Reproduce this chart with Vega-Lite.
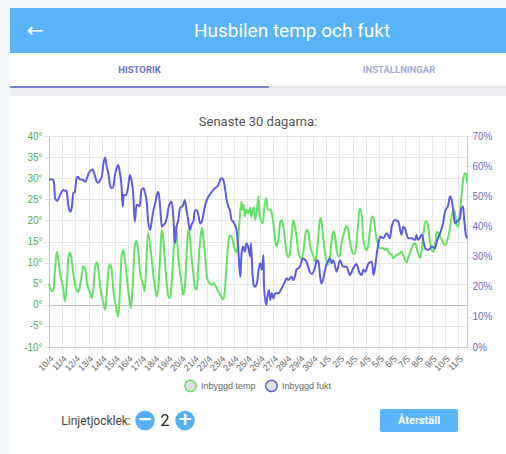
{
"$schema": "https://vega.github.io/schema/vega-lite/v6.json",
"padding": 0,
"autosize": {"type": "pad"},
"background": "#ffffff",
"spacing": 0,
"config": {"font": "Roboto", "view": {"stroke": null}, "concat": {"spacing": 0}, "legend": {"layout": {"bottom": {"anchor": "middle"}}}},
"datasets": {
"temp": [
{"t":"2023-04-10T00:00","v":5.0},{"t":"2023-04-10T05:00","v":3.2},{"t":"2023-04-10T08:00","v":3.5},{"t":"2023-04-10T11:00","v":8.3},{"t":"2023-04-10T14:00","v":12.6},{"t":"2023-04-10T17:00","v":10.7},{"t":"2023-04-10T20:00","v":7.5},
{"t":"2023-04-11T02:00","v":3.6},{"t":"2023-04-11T05:00","v":0.8},{"t":"2023-04-11T08:00","v":4.3},{"t":"2023-04-11T11:00","v":10.7},{"t":"2023-04-11T14:00","v":12.4},{"t":"2023-04-11T17:00","v":10.7},{"t":"2023-04-11T20:00","v":7.5},
{"t":"2023-04-12T02:00","v":3.6},{"t":"2023-04-12T05:00","v":3.0},{"t":"2023-04-12T08:00","v":4.3},{"t":"2023-04-12T12:00","v":7.5},{"t":"2023-04-12T14:00","v":9.1},{"t":"2023-04-12T18:00","v":8.3},{"t":"2023-04-12T21:00","v":5.1},
{"t":"2023-04-13T03:00","v":2.8},{"t":"2023-04-13T06:00","v":1.6},{"t":"2023-04-13T09:00","v":4.3},{"t":"2023-04-13T12:00","v":9.1},{"t":"2023-04-13T15:00","v":10.0},{"t":"2023-04-13T18:00","v":8.3},{"t":"2023-04-13T21:00","v":4.3},
{"t":"2023-04-14T03:00","v":0.4},{"t":"2023-04-14T06:00","v":-1.2},{"t":"2023-04-14T09:00","v":2.8},{"t":"2023-04-14T12:00","v":8.3},{"t":"2023-04-14T15:00","v":9.6},{"t":"2023-04-14T18:00","v":8.3},{"t":"2023-04-14T21:00","v":3.6},
{"t":"2023-04-15T03:00","v":-1.2},{"t":"2023-04-15T06:00","v":-2.8},{"t":"2023-04-15T09:00","v":3.6},{"t":"2023-04-15T12:00","v":11.4},{"t":"2023-04-15T15:00","v":12.9},{"t":"2023-04-15T18:00","v":10.7},
{"t":"2023-04-16T00:00","v":3.6},{"t":"2023-04-16T05:00","v":-0.8},{"t":"2023-04-16T08:00","v":4.3},{"t":"2023-04-16T12:00","v":13.8},{"t":"2023-04-16T15:00","v":15.2},{"t":"2023-04-16T18:00","v":13.0},{"t":"2023-04-16T21:00","v":8.3},
{"t":"2023-04-17T04:00","v":4.3},{"t":"2023-04-17T06:00","v":3.2},{"t":"2023-04-17T12:00","v":17.0},{"t":"2023-04-17T19:00","v":10.4},{"t":"2023-04-17T22:00","v":6.7},
{"t":"2023-04-18T01:00","v":3.6},{"t":"2023-04-18T04:00","v":2.0},{"t":"2023-04-18T07:00","v":4.3},{"t":"2023-04-18T10:00","v":11.4},{"t":"2023-04-18T13:00","v":17.8},{"t":"2023-04-18T16:00","v":15.4},{"t":"2023-04-18T19:00","v":9.9},{"t":"2023-04-18T22:00","v":5.1},
{"t":"2023-04-19T01:00","v":2.0},{"t":"2023-04-19T04:00","v":1.6},{"t":"2023-04-19T07:00","v":5.1},{"t":"2023-04-19T10:00","v":11.4},{"t":"2023-04-19T13:00","v":18.6},{"t":"2023-04-19T16:00","v":17.0},{"t":"2023-04-19T19:00","v":11.4},
{"t":"2023-04-20T01:00","v":5.1},{"t":"2023-04-20T04:00","v":2.4},{"t":"2023-04-20T07:00","v":4.3},{"t":"2023-04-20T10:00","v":11.4},{"t":"2023-04-20T13:00","v":17.8},{"t":"2023-04-20T16:00","v":16.2},{"t":"2023-04-20T19:00","v":11.4},{"t":"2023-04-20T23:00","v":6.7},
{"t":"2023-04-21T01:00","v":4.3},{"t":"2023-04-21T05:00","v":3.6},{"t":"2023-04-21T07:00","v":8.3},{"t":"2023-04-21T11:00","v":15.4},{"t":"2023-04-21T14:00","v":18.2},{"t":"2023-04-21T17:00","v":15.4},{"t":"2023-04-21T20:00","v":11.4},{"t":"2023-04-21T23:00","v":6.7},
{"t":"2023-04-22T02:00","v":5.5},{"t":"2023-04-22T08:00","v":4.7},{"t":"2023-04-22T11:00","v":5.1},{"t":"2023-04-22T17:00","v":3.9},{"t":"2023-04-22T23:00","v":2.4},
{"t":"2023-04-23T05:00","v":1.3},{"t":"2023-04-23T08:00","v":3.6},{"t":"2023-04-23T11:00","v":9.9},{"t":"2023-04-23T14:00","v":14.6},{"t":"2023-04-23T17:00","v":16.4},{"t":"2023-04-23T20:00","v":16.2},
{"t":"2023-04-24T02:00","v":13.0},{"t":"2023-04-24T05:00","v":12.4},{"t":"2023-04-24T08:00","v":15.4},{"t":"2023-04-24T11:00","v":20.9},{"t":"2023-04-24T14:00","v":24.5},{"t":"2023-04-24T16:00","v":22.5},{"t":"2023-04-24T18:00","v":23.7},{"t":"2023-04-24T20:00","v":20.9},{"t":"2023-04-24T23:00","v":22.5},
{"t":"2023-04-25T02:00","v":21.7},{"t":"2023-04-25T06:00","v":23.0},{"t":"2023-04-25T08:00","v":20.9},{"t":"2023-04-25T12:00","v":23.1},{"t":"2023-04-25T15:00","v":20.1},{"t":"2023-04-25T18:00","v":22.5},{"t":"2023-04-25T21:00","v":25.7},{"t":"2023-04-25T22:00","v":22.5},
{"t":"2023-04-26T01:00","v":20.1},{"t":"2023-04-26T05:00","v":19.3},{"t":"2023-04-26T07:00","v":22.5},{"t":"2023-04-26T11:00","v":25.3},{"t":"2023-04-26T14:00","v":22.5},{"t":"2023-04-26T18:00","v":22.5},{"t":"2023-04-26T21:00","v":21.7},
{"t":"2023-04-27T00:00","v":19.3},{"t":"2023-04-27T03:00","v":15.4},{"t":"2023-04-27T06:00","v":13.8},{"t":"2023-04-27T09:00","v":15.4},{"t":"2023-04-27T12:00","v":19.3},{"t":"2023-04-27T15:00","v":20.1},{"t":"2023-04-27T18:00","v":18.6},{"t":"2023-04-27T21:00","v":15.4},
{"t":"2023-04-28T00:00","v":12.2},{"t":"2023-04-28T03:00","v":11.3},{"t":"2023-04-28T06:00","v":12.2},{"t":"2023-04-28T09:00","v":16.2},{"t":"2023-04-28T12:00","v":20.1},{"t":"2023-04-28T15:00","v":18.6},{"t":"2023-04-28T18:00","v":16.2},{"t":"2023-04-28T21:00","v":13.0},
{"t":"2023-04-29T03:00","v":10.8},{"t":"2023-04-29T06:00","v":12.2},{"t":"2023-04-29T09:00","v":15.4},{"t":"2023-04-29T12:00","v":17.8},{"t":"2023-04-29T16:00","v":17.0},{"t":"2023-04-29T18:00","v":14.6},
{"t":"2023-04-30T01:00","v":11.4},{"t":"2023-04-30T04:00","v":10.3},{"t":"2023-04-30T07:00","v":12.2},{"t":"2023-04-30T10:00","v":17.0},{"t":"2023-04-30T13:00","v":20.5},{"t":"2023-04-30T16:00","v":19.3},{"t":"2023-04-30T19:00","v":15.4},{"t":"2023-04-30T22:00","v":12.2},
{"t":"2023-05-01T04:00","v":9.5},{"t":"2023-05-01T07:00","v":11.4},{"t":"2023-05-01T10:00","v":15.4},{"t":"2023-05-01T13:00","v":17.4},{"t":"2023-05-01T16:00","v":16.2},{"t":"2023-05-01T19:00","v":13.0},{"t":"2023-05-01T22:00","v":11.4},
{"t":"2023-05-02T01:00","v":11.8},{"t":"2023-05-02T04:00","v":14.6},{"t":"2023-05-02T10:00","v":17.8},{"t":"2023-05-02T13:00","v":18.7},{"t":"2023-05-02T16:00","v":17.8},{"t":"2023-05-02T19:00","v":15.0},
{"t":"2023-05-03T01:00","v":12.2},{"t":"2023-05-03T04:00","v":12.1},{"t":"2023-05-03T07:00","v":14.6},{"t":"2023-05-03T10:00","v":19.3},{"t":"2023-05-03T13:00","v":22.9},{"t":"2023-05-03T17:00","v":20.9},{"t":"2023-05-03T19:00","v":16.2},{"t":"2023-05-03T23:00","v":13.4},
{"t":"2023-05-04T02:00","v":13.0},{"t":"2023-05-04T05:00","v":14.6},{"t":"2023-05-04T08:00","v":18.6},{"t":"2023-05-04T11:00","v":20.9},{"t":"2023-05-04T14:00","v":20.5},{"t":"2023-05-04T17:00","v":17.8},{"t":"2023-05-04T20:00","v":15.4},
{"t":"2023-05-05T02:00","v":13.4},{"t":"2023-05-05T08:00","v":13.4},{"t":"2023-05-05T11:00","v":13.0},{"t":"2023-05-05T14:00","v":13.4},{"t":"2023-05-05T17:00","v":12.6},{"t":"2023-05-05T23:00","v":11.8},
{"t":"2023-05-06T02:00","v":11.1},{"t":"2023-05-06T08:00","v":11.8},{"t":"2023-05-06T14:00","v":12.2},{"t":"2023-05-06T17:00","v":12.6},{"t":"2023-05-06T20:00","v":11.8},{"t":"2023-05-06T23:00","v":10.7},
{"t":"2023-05-07T02:00","v":10.0},{"t":"2023-05-07T05:00","v":11.1},{"t":"2023-05-07T08:00","v":12.2},{"t":"2023-05-07T14:00","v":14.2},{"t":"2023-05-07T18:00","v":14.6},{"t":"2023-05-07T20:00","v":13.8},{"t":"2023-05-07T23:00","v":12.2},
{"t":"2023-05-08T03:00","v":11.1},{"t":"2023-05-08T06:00","v":13.4},{"t":"2023-05-08T09:00","v":17.0},{"t":"2023-05-08T12:00","v":19.7},{"t":"2023-05-08T15:00","v":19.7},{"t":"2023-05-08T18:00","v":17.8},{"t":"2023-05-08T21:00","v":14.6},
{"t":"2023-05-09T00:00","v":13.0},{"t":"2023-05-09T03:00","v":12.6},{"t":"2023-05-09T06:00","v":14.2},{"t":"2023-05-09T09:00","v":17.3},{"t":"2023-05-09T12:00","v":17.0},{"t":"2023-05-09T18:00","v":15.4},
{"t":"2023-05-10T00:00","v":14.2},{"t":"2023-05-10T06:00","v":16.2},{"t":"2023-05-10T09:00","v":18.2},{"t":"2023-05-10T12:00","v":20.9},{"t":"2023-05-10T15:00","v":22.5},{"t":"2023-05-10T18:00","v":21.7},{"t":"2023-05-10T21:00","v":19.0},
{"t":"2023-05-11T00:00","v":18.6},{"t":"2023-05-11T03:00","v":21.7},{"t":"2023-05-11T06:00","v":25.7},{"t":"2023-05-11T09:00","v":29.6},{"t":"2023-05-11T12:00","v":31.2},{"t":"2023-05-11T15:00","v":30.8},{"t":"2023-05-11T16:00","v":28.8}
],
"fukt": [
{"t":"2023-04-10T00:00","v":55.6},{"t":"2023-04-10T07:00","v":55.6},{"t":"2023-04-10T09:00","v":54.8},{"t":"2023-04-10T11:00","v":49.3},{"t":"2023-04-10T15:00","v":48.5},{"t":"2023-04-10T20:00","v":50.4},{"t":"2023-04-10T23:00","v":51.5},
{"t":"2023-04-11T02:00","v":52.1},{"t":"2023-04-11T05:00","v":51.8},{"t":"2023-04-11T08:00","v":51.9},{"t":"2023-04-11T11:00","v":47.1},{"t":"2023-04-11T15:00","v":44.9},{"t":"2023-04-11T18:00","v":47.1},{"t":"2023-04-11T20:00","v":51.0},{"t":"2023-04-11T23:00","v":51.5},
{"t":"2023-04-12T02:00","v":56.0},{"t":"2023-04-12T05:00","v":56.5},{"t":"2023-04-12T08:00","v":55.6},{"t":"2023-04-12T14:00","v":55.4},{"t":"2023-04-12T18:00","v":54.8},{"t":"2023-04-12T21:00","v":56.0},
{"t":"2023-04-13T00:00","v":57.6},{"t":"2023-04-13T03:00","v":58.4},{"t":"2023-04-13T07:00","v":58.9},{"t":"2023-04-13T12:00","v":56.5},{"t":"2023-04-13T15:00","v":54.8},{"t":"2023-04-13T18:00","v":54.5},{"t":"2023-04-13T21:00","v":55.4},
{"t":"2023-04-14T00:00","v":56.5},{"t":"2023-04-14T03:00","v":60.9},{"t":"2023-04-14T06:00","v":62.9},{"t":"2023-04-14T09:00","v":59.8},{"t":"2023-04-14T12:00","v":57.6},{"t":"2023-04-14T15:00","v":53.7},{"t":"2023-04-14T18:00","v":52.7},{"t":"2023-04-14T21:00","v":53.2},
{"t":"2023-04-15T00:00","v":57.1},{"t":"2023-04-15T03:00","v":59.3},{"t":"2023-04-15T06:00","v":60.4},{"t":"2023-04-15T09:00","v":57.6},{"t":"2023-04-15T12:00","v":53.2},{"t":"2023-04-15T14:00","v":46.6},{"t":"2023-04-15T16:00","v":50.4},{"t":"2023-04-15T20:00","v":50.4},
{"t":"2023-04-16T00:00","v":53.2},{"t":"2023-04-16T03:00","v":57.1},{"t":"2023-04-16T06:00","v":55.4},{"t":"2023-04-16T09:00","v":51.0},{"t":"2023-04-16T12:00","v":41.6},{"t":"2023-04-16T15:00","v":47.1},{"t":"2023-04-16T18:00","v":47.1},{"t":"2023-04-16T21:00","v":46.6},
{"t":"2023-04-17T00:00","v":52.1},{"t":"2023-04-17T04:00","v":52.7},{"t":"2023-04-17T06:00","v":51.5},{"t":"2023-04-17T10:00","v":47.7},{"t":"2023-04-17T12:00","v":42.1},{"t":"2023-04-17T16:00","v":38.8},{"t":"2023-04-17T19:00","v":42.1},{"t":"2023-04-17T22:00","v":45.4},
{"t":"2023-04-18T01:00","v":47.7},{"t":"2023-04-18T04:00","v":50.4},{"t":"2023-04-18T07:00","v":51.5},{"t":"2023-04-18T10:00","v":46.6},{"t":"2023-04-18T13:00","v":39.9},{"t":"2023-04-18T16:00","v":40.5},{"t":"2023-04-18T19:00","v":41.0},{"t":"2023-04-18T22:00","v":42.7},
{"t":"2023-04-19T01:00","v":46.0},{"t":"2023-04-19T04:00","v":47.7},{"t":"2023-04-19T07:00","v":48.2},{"t":"2023-04-19T10:00","v":43.2},{"t":"2023-04-19T13:00","v":34.4},{"t":"2023-04-19T16:00","v":39.9},{"t":"2023-04-19T19:00","v":42.1},{"t":"2023-04-19T22:00","v":46.0},
{"t":"2023-04-20T04:00","v":47.1},{"t":"2023-04-20T07:00","v":48.8},{"t":"2023-04-20T10:00","v":45.4},{"t":"2023-04-20T13:00","v":42.1},{"t":"2023-04-20T16:00","v":38.8},{"t":"2023-04-20T19:00","v":40.5},{"t":"2023-04-20T23:00","v":42.1},
{"t":"2023-04-21T01:00","v":45.4},{"t":"2023-04-21T05:00","v":45.4},{"t":"2023-04-21T07:00","v":44.3},{"t":"2023-04-21T11:00","v":41.0},{"t":"2023-04-21T14:00","v":41.6},{"t":"2023-04-21T17:00","v":44.3},{"t":"2023-04-21T20:00","v":47.1},{"t":"2023-04-21T23:00","v":48.8},
{"t":"2023-04-22T02:00","v":49.9},{"t":"2023-04-22T08:00","v":51.5},{"t":"2023-04-22T14:00","v":52.7},{"t":"2023-04-22T20:00","v":53.7},{"t":"2023-04-22T23:00","v":55.4},
{"t":"2023-04-23T02:00","v":56.0},{"t":"2023-04-23T05:00","v":55.4},{"t":"2023-04-23T08:00","v":52.7},{"t":"2023-04-23T11:00","v":48.8},{"t":"2023-04-23T14:00","v":46.6},{"t":"2023-04-23T17:00","v":45.4},{"t":"2023-04-23T20:00","v":42.1},{"t":"2023-04-23T23:00","v":41.6},
{"t":"2023-04-24T02:00","v":40.5},{"t":"2023-04-24T05:00","v":38.8},{"t":"2023-04-24T08:00","v":33.3},{"t":"2023-04-24T10:00","v":26.6},{"t":"2023-04-24T12:00","v":23.3},{"t":"2023-04-24T14:00","v":31.0},{"t":"2023-04-24T17:00","v":33.3},{"t":"2023-04-24T20:00","v":31.6},{"t":"2023-04-24T23:00","v":34.4},
{"t":"2023-04-25T02:00","v":33.3},{"t":"2023-04-25T06:00","v":30.0},{"t":"2023-04-25T07:00","v":34.4},{"t":"2023-04-25T10:00","v":24.4},{"t":"2023-04-25T12:00","v":20.6},{"t":"2023-04-25T14:00","v":20.0},{"t":"2023-04-25T18:00","v":21.1},{"t":"2023-04-25T21:00","v":25.6},
{"t":"2023-04-26T00:00","v":27.8},{"t":"2023-04-26T03:00","v":25.6},{"t":"2023-04-26T06:00","v":30.5},{"t":"2023-04-26T07:00","v":20.0},{"t":"2023-04-26T11:00","v":13.9},{"t":"2023-04-26T13:00","v":16.7},{"t":"2023-04-26T16:00","v":18.9},{"t":"2023-04-26T18:00","v":15.6},{"t":"2023-04-26T21:00","v":17.8},
{"t":"2023-04-27T00:00","v":16.1},{"t":"2023-04-27T03:00","v":17.8},{"t":"2023-04-27T09:00","v":17.8},{"t":"2023-04-27T15:00","v":19.5},{"t":"2023-04-27T21:00","v":21.7},
{"t":"2023-04-28T00:00","v":22.8},{"t":"2023-04-28T03:00","v":22.2},{"t":"2023-04-28T09:00","v":23.3},{"t":"2023-04-28T12:00","v":22.2},{"t":"2023-04-28T15:00","v":23.3},{"t":"2023-04-28T18:00","v":25.6},
{"t":"2023-04-29T00:00","v":26.6},{"t":"2023-04-29T03:00","v":28.3},{"t":"2023-04-29T06:00","v":29.4},{"t":"2023-04-29T12:00","v":28.3},{"t":"2023-04-29T18:00","v":25.0},{"t":"2023-04-29T22:00","v":24.2},
{"t":"2023-04-30T04:00","v":26.6},{"t":"2023-04-30T07:00","v":28.8},{"t":"2023-04-30T10:00","v":28.3},{"t":"2023-04-30T13:00","v":23.3},{"t":"2023-04-30T15:00","v":21.1},{"t":"2023-04-30T18:00","v":22.2},{"t":"2023-04-30T22:00","v":25.6},
{"t":"2023-05-01T04:00","v":28.8},{"t":"2023-05-01T07:00","v":29.4},{"t":"2023-05-01T10:00","v":27.8},{"t":"2023-05-01T13:00","v":28.8},{"t":"2023-05-01T19:00","v":25.0},
{"t":"2023-05-02T01:00","v":28.8},{"t":"2023-05-02T07:00","v":26.6},{"t":"2023-05-02T13:00","v":26.6},{"t":"2023-05-02T19:00","v":23.9},
{"t":"2023-05-03T01:00","v":26.1},{"t":"2023-05-03T07:00","v":27.5},{"t":"2023-05-03T13:00","v":24.4},{"t":"2023-05-03T17:00","v":23.9},{"t":"2023-05-03T19:00","v":25.6},{"t":"2023-05-03T23:00","v":25.0},
{"t":"2023-05-04T05:00","v":27.8},{"t":"2023-05-04T11:00","v":28.3},{"t":"2023-05-04T14:00","v":23.9},{"t":"2023-05-04T17:00","v":26.6},{"t":"2023-05-04T20:00","v":31.0},{"t":"2023-05-04T23:00","v":34.4},
{"t":"2023-05-05T02:00","v":36.6},{"t":"2023-05-05T08:00","v":36.1},{"t":"2023-05-05T14:00","v":37.7},{"t":"2023-05-05T20:00","v":36.1},{"t":"2023-05-05T23:00","v":39.9},
{"t":"2023-05-06T05:00","v":42.1},{"t":"2023-05-06T11:00","v":41.6},{"t":"2023-05-06T17:00","v":37.2},{"t":"2023-05-06T20:00","v":39.9},{"t":"2023-05-06T23:00","v":39.4},
{"t":"2023-05-07T05:00","v":36.1},{"t":"2023-05-07T11:00","v":36.1},{"t":"2023-05-07T18:00","v":35.5},{"t":"2023-05-07T20:00","v":37.2},{"t":"2023-05-07T23:00","v":35.5},
{"t":"2023-05-08T06:00","v":37.2},{"t":"2023-05-08T09:00","v":35.0},{"t":"2023-05-08T12:00","v":32.7},{"t":"2023-05-08T18:00","v":32.2},
{"t":"2023-05-09T00:00","v":33.3},{"t":"2023-05-09T06:00","v":32.7},{"t":"2023-05-09T09:00","v":35.0},{"t":"2023-05-09T15:00","v":37.7},{"t":"2023-05-09T21:00","v":41.6},
{"t":"2023-05-10T00:00","v":44.9},{"t":"2023-05-10T06:00","v":47.1},{"t":"2023-05-10T09:00","v":49.9},{"t":"2023-05-10T12:00","v":48.8},{"t":"2023-05-10T15:00","v":45.4},{"t":"2023-05-10T18:00","v":41.0},
{"t":"2023-05-11T00:00","v":42.1},{"t":"2023-05-11T03:00","v":42.7},{"t":"2023-05-11T06:00","v":46.0},{"t":"2023-05-11T09:00","v":46.6},{"t":"2023-05-11T11:00","v":42.1},{"t":"2023-05-11T14:00","v":37.2},{"t":"2023-05-11T16:00","v":36.1}
],
"blank": [{}],
"header": [{"s": "←", "title": "Husbilen temp och fukt"}],
"tabs": [{"a": "HISTORIK", "b": "INSTÄLLNINGAR"}],
"footer": [{"label": "Linjetjocklek:", "minus": "−", "n": "2", "plus": "+", "btn": "Återställ"}]
},
"resolve": {"scale": {"color": "independent"}, "legend": {"color": "independent"}},
"hconcat": [
 {"width": 10, "height": 454, "data": {"name": "blank"}, "mark": {"type": "point", "size": 0, "opacity": 0}, "view": {"fill": "#f3f7fb", "stroke": null}},
 {"resolve": {"scale": {"color": "independent"}, "legend": {"color": "independent"}},
  "vconcat": [
  {"width": 496, "height": 8, "data": {"name": "blank"}, "mark": {"type": "point", "size": 0, "opacity": 0}, "view": {"fill": "#f3f7fb", "stroke": null}},
  {"hconcat": [
    {"width": 15, "height": 45, "data": {"name": "blank"}, "mark": {"type": "point", "size": 0, "opacity": 0}, "view": {"fill": "#5ab4fb", "stroke": null}},
    {"width": 20, "height": 45, "data": {"name": "header"}, "mark": {"type": "text", "color": "#ffffff", "fontSize": 20, "font": "DejaVu Sans"}, "encoding": {"text": {"field": "s"}}, "view": {"fill": "#5ab4fb", "stroke": null}},
    {"width": 33, "height": 45, "data": {"name": "blank"}, "mark": {"type": "point", "size": 0, "opacity": 0}, "view": {"fill": "#5ab4fb", "stroke": null}},
    {"width": 428, "height": 45, "data": {"name": "header"}, "mark": {"type": "text", "color": "#ffffff", "fontSize": 19, "font": "Roboto"}, "encoding": {"text": {"field": "title"}}, "view": {"fill": "#5ab4fb", "stroke": null}}
  ], "spacing": 0},
  {"hconcat": [
    {"width": 259, "height": 33, "data": {"name": "tabs"}, "mark": {"type": "text", "color": "#6674bf", "fontSize": 9.5, "fontWeight": "bold", "font": "Roboto"}, "encoding": {"text": {"field": "a"}}, "view": {"fill": "#ffffff", "stroke": null}},
    {"width": 23, "height": 33, "data": {"name": "blank"}, "mark": {"type": "point", "size": 0, "opacity": 0}, "view": {"fill": "#ffffff", "stroke": null}},
    {"width": 214, "height": 33, "data": {"name": "tabs"}, "mark": {"type": "text", "color": "#a3acd6", "fontSize": 9.5, "fontWeight": "bold", "font": "Roboto"}, "encoding": {"text": {"field": "b"}}, "view": {"fill": "#ffffff", "stroke": null}}
  ], "spacing": 0},
  {"hconcat": [
    {"width": 259, "height": 2, "data": {"name": "blank"}, "mark": {"type": "point", "size": 0, "opacity": 0}, "view": {"fill": "#7986cb", "stroke": null}},
    {"width": 237, "height": 2, "data": {"name": "blank"}, "mark": {"type": "point", "size": 0, "opacity": 0}, "view": {"fill": "#e6e8eb", "stroke": null}}
  ], "spacing": 0},
  {"width": 496, "height": 8, "data": {"name": "blank"}, "mark": {"type": "point", "size": 0, "opacity": 0}, "view": {"fill": "#eceef1", "stroke": null}},
  {"width": 496, "height": 20, "data": {"name": "blank"}, "mark": {"type": "point", "size": 0, "opacity": 0}, "view": {"fill": "#ffffff", "stroke": null}},
  {"hconcat": [
   {"width": 13, "height": 20, "data": {"name": "blank"}, "mark": {"type": "point", "size": 0, "opacity": 0}},
   {
   "width": 418, "height": 211,
   "title": {"text": "Senaste 30 dagarna:", "fontSize": 13, "font": "Roboto", "fontWeight": "normal", "color": "#555555", "offset": 2},
   "view": {"stroke": null},
   "layer": [
    {"data": {"name": "temp"}, "mark": {"type": "line", "strokeWidth": 2, "interpolate": "monotone"},
     "encoding": {
      "x": {"field": "t", "type": "temporal", "scale": {"domain": [{"year": 2023, "month": 4, "date": 10, "hours": 0}, {"year": 2023, "month": 5, "date": 11, "hours": 16}], "nice": false},
            "axis": {"title": null, "format": "%-d/%-m", "tickCount": {"interval": "day", "step": 1}, "labelAngle": -45, "labelOverlap": false, "labelFontSize": 9, "labelFont": "Liberation Sans", "labelColor": "#666666", "gridColor": "#e6e6e6", "domainColor": "#c8c8c8", "tickColor": "#e6e6e6", "tickSize": 5, "labelPadding": 2}},
      "y": {"field": "v", "type": "quantitative", "scale": {"domain": [-10, 40], "nice": false},
            "axis": {"title": null, "values": [-10, -5, 0, 5, 10, 15, 20, 25, 30, 35, 40], "labelExpr": "datum.value + '°'", "labelColor": "#4caf50", "labelFontSize": 10, "labelFont": "Liberation Sans", "gridColor": {"condition": {"test": "datum.value === 0", "value": "#bdbdbd"}, "value": "#e6e6e6"}, "domainColor": "#c8c8c8", "tickColor": "#e6e6e6", "tickSize": 5, "labelPadding": 2}},
      "color": {"datum": "Inbyggd temp", "type": "nominal", "scale": {"domain": ["Inbyggd temp", "Inbyggd fukt"], "range": ["#62e262", "#5c5ce6"]},
            "legend": {"title": null, "orient": "bottom", "direction": "horizontal", "symbolType": "circle", "symbolFillColor": "#e0e0e0", "symbolStrokeWidth": 1.5, "symbolSize": 130, "labelFontSize": 9, "labelFont": "Liberation Sans", "labelColor": "#666666", "columnPadding": 6, "labelOffset": 4, "offset": 6}}
     }},
    {"data": {"name": "fukt"}, "mark": {"type": "line", "strokeWidth": 2, "interpolate": "monotone"},
     "encoding": {
      "x": {"field": "t", "type": "temporal"},
      "y": {"field": "v", "type": "quantitative", "scale": {"domain": [0, 70], "nice": false},
            "axis": {"title": null, "orient": "right", "values": [0, 10, 20, 30, 40, 50, 60, 70], "labelExpr": "datum.value + '%'", "labelColor": "#6e6ec8", "labelFontSize": 10, "labelFont": "Liberation Sans", "gridColor": "#e6e6e6", "domainColor": "#c8c8c8", "tickColor": "#e6e6e6", "tickSize": 4, "labelPadding": 1}},
      "color": {"datum": "Inbyggd fukt", "type": "nominal"}
     }}
   ],
   "resolve": {"scale": {"y": "independent"}}
  }], "spacing": 0, "resolve": {"scale": {"color": "independent"}, "legend": {"color": "independent"}}},
  {"width": 496, "height": 14, "data": {"name": "blank"}, "mark": {"type": "point", "size": 0, "opacity": 0}, "view": {"fill": "#ffffff", "stroke": null}},
  {"hconcat": [
    {"width": 51, "height": 23, "data": {"name": "blank"}, "mark": {"type": "point", "size": 0, "opacity": 0}},
    {"width": 66, "height": 23, "data": {"name": "footer"}, "mark": {"type": "text", "color": "#444444", "fontSize": 12, "font": "Roboto"}, "encoding": {"text": {"field": "label"}}},
    {"width": 4, "height": 23, "data": {"name": "blank"}, "mark": {"type": "point", "size": 0, "opacity": 0}},
    {"width": 20, "height": 23, "data": {"name": "footer"}, "layer": [
      {"mark": {"type": "point", "filled": true, "color": "#55b0f8", "size": 380, "opacity": 1}},
      {"mark": {"type": "text", "color": "#ffffff", "fontSize": 18, "fontWeight": "bold", "font": "DejaVu Sans", "dy": -1}, "encoding": {"text": {"field": "minus"}}}
    ]},
    {"width": 20, "height": 23, "data": {"name": "footer"}, "mark": {"type": "text", "color": "#222222", "fontSize": 16, "font": "Roboto"}, "encoding": {"text": {"field": "n"}}},
    {"width": 20, "height": 23, "data": {"name": "footer"}, "layer": [
      {"mark": {"type": "point", "filled": true, "color": "#55b0f8", "size": 380, "opacity": 1}},
      {"mark": {"type": "text", "color": "#ffffff", "fontSize": 18, "fontWeight": "bold", "font": "DejaVu Sans", "dy": -1}, "encoding": {"text": {"field": "plus"}}}
    ]},
    {"width": 185, "height": 23, "data": {"name": "blank"}, "mark": {"type": "point", "size": 0, "opacity": 0}},
    {"width": 78, "height": 23, "data": {"name": "footer"}, "mark": {"type": "text", "color": "#ffffff", "fontSize": 11, "fontWeight": "bold", "font": "Roboto"}, "encoding": {"text": {"field": "btn"}}, "view": {"fill": "#5ab4fb", "stroke": null, "cornerRadius": 2}},
    {"width": 52, "height": 23, "data": {"name": "blank"}, "mark": {"type": "point", "size": 0, "opacity": 0}}
  ], "spacing": 0}
 ], "spacing": 0}
]
}
